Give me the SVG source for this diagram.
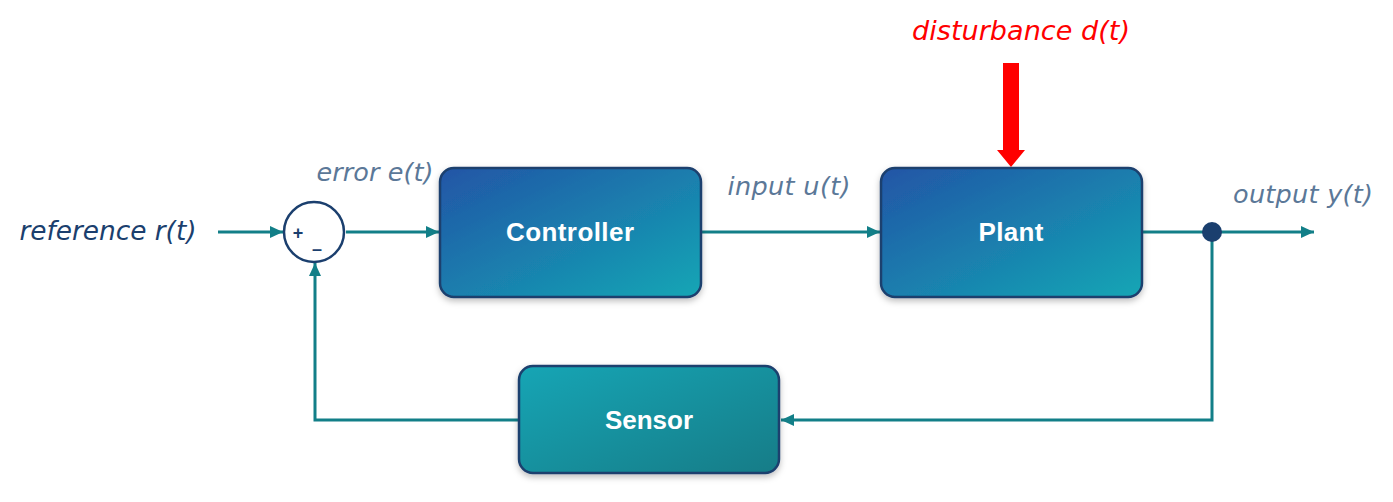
<svg xmlns="http://www.w3.org/2000/svg" width="1393" height="502" viewBox="0 0 1393 502">
<style>
.box{stroke:#1b3f6e;stroke-width:2.5}
.nt{font-family:"Liberation Sans",Arial,sans-serif;font-weight:bold;font-size:26px;fill:#ffffff;text-anchor:middle}
.it{font-family:"DejaVu Sans",sans-serif;font-style:italic;text-anchor:middle}
.lbl{font-size:25.5px;fill:#5b7898}
.conn{fill:none;stroke:#127f88;stroke-width:3}
</style>
<defs>
<linearGradient id="gBlue" x1="0" y1="0" x2="1" y2="1">
<stop offset="0" stop-color="#2255a6"/>
<stop offset="1" stop-color="#13a6b5"/>
</linearGradient>
<linearGradient id="gTeal" x1="0" y1="0" x2="1" y2="1">
<stop offset="0" stop-color="#14a5b5"/>
<stop offset="1" stop-color="#127c87"/>
</linearGradient>
<filter id="sh" x="-10%" y="-10%" width="120%" height="130%">
<feDropShadow dx="0" dy="3" stdDeviation="3" flood-color="#000" flood-opacity="0.25"/>
</filter>
<marker id="ahs" markerWidth="13" markerHeight="12" viewBox="0 0 13 12" refX="13" refY="6" orient="auto" markerUnits="userSpaceOnUse">
<path d="M0,0 L13,6 L0,12 z" fill="#127f88"/>
</marker>
</defs>

<g id="connectors">
<line class="conn" x1="218" y1="232" x2="283" y2="232" marker-end="url(#ahs)"/>
<line class="conn" x1="346" y1="232" x2="439" y2="232" marker-end="url(#ahs)"/>
<line class="conn" x1="701" y1="232" x2="880" y2="232" marker-end="url(#ahs)"/>
<line class="conn" x1="1143" y1="232" x2="1314" y2="232" marker-end="url(#ahs)"/>
<polyline class="conn" points="1212,232 1212,420 781,420" marker-end="url(#ahs)"/>
<polyline class="conn" points="518,420 315,420 315,263" marker-end="url(#ahs)"/>
<circle cx="1212" cy="232" r="10" fill="#1b3f6e"/>
</g>

<g id="summer">
<circle cx="314" cy="232" r="30" fill="#ffffff" stroke="#1b3f6e" stroke-width="2.5"/>
<text x="298" y="239" font-family="Liberation Sans,sans-serif" font-weight="bold" font-size="18" fill="#1b3f6e" text-anchor="middle">+</text>
<text x="317" y="255" font-family="Liberation Sans,sans-serif" font-weight="bold" font-size="18" fill="#1b3f6e" text-anchor="middle">–</text>
</g>

<g id="controller">
<rect class="box" x="440" y="168" width="261" height="129" rx="14" fill="url(#gBlue)" filter="url(#sh)"/>
<text class="nt" x="570" y="241" textLength="128">Controller</text>
</g>

<g id="plant">
<rect class="box" x="881" y="168" width="261" height="129" rx="14" fill="url(#gBlue)" filter="url(#sh)"/>
<text class="nt" x="1011" y="241" textLength="65">Plant</text>
</g>

<g id="sensor">
<rect class="box" x="519" y="366" width="260" height="107" rx="14" fill="url(#gTeal)" filter="url(#sh)"/>
<text class="nt" x="649" y="429" textLength="88">Sensor</text>
</g>

<g id="disturbance">
<polygon points="1003,63 1019,63 1019,150 1025,150 1011,167 997,150 1003,150" fill="#ff0000"/>
<text class="it" x="1021" y="40" font-size="27" fill="#ff0000" textLength="218">disturbance d(t)</text>
</g>

<g id="labels">
<text class="it" x="108" y="240" font-size="26.4" fill="#1b3f6e" textLength="177">reference r(t)</text>
<text class="it lbl" x="375" y="181" textLength="117">error e(t)</text>
<text class="it lbl" x="789" y="195" textLength="123">input u(t)</text>
<text class="it lbl" x="1303" y="203" textLength="140">output y(t)</text>
</g>
</svg>
